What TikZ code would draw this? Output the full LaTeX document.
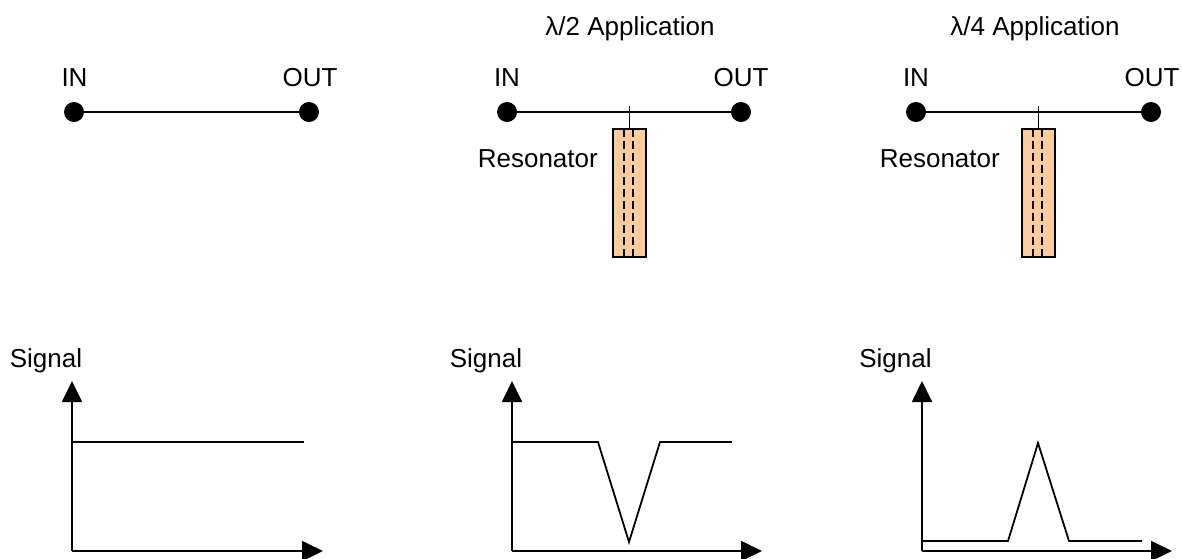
\documentclass[tikz,border=0pt]{standalone}
\usepackage{fontspec}
\setmainfont{Liberation Sans}
\usetikzlibrary{arrows.meta}
\definecolor{peach}{HTML}{FCCC9C}
\begin{document}
\begin{tikzpicture}[x=1pt,y=-1pt,
  port/.style={circle,fill=black,inner sep=0pt,minimum size=20pt},
  lbl/.style={inner sep=0pt,anchor=base,font=\fontsize{26}{31}\selectfont},
  wire/.style={line width=1.8pt},
  resbox/.style={draw=black,line width=1.8pt,fill=peach,minimum width=33pt,minimum height=128pt,inner sep=0pt},
  resdash/.style={line width=1.5pt,dash pattern=on 8pt off 4pt},
  axis/.style={line width=1.8pt,-{Triangle[width=20pt,length=21pt]}},
  sig/.style={line width=1.8pt,line join=miter}]
\useasboundingbox (0,0) rectangle (1182,558);

% ---- panel 1 ----
\node[port] (i1) at (74,112) {};
\node[port] (o1) at (309,112) {};
\node[lbl] (li1) at (74.5,86) {IN};
\node[lbl] (lo1) at (310,86) {OUT};
\draw[wire] (i1) -- (o1);

% ---- panel 2 ----
\node[lbl] (t2) at (630,35) {λ/2 Application};
\node[port] (i2) at (507,112) {};
\node[port] (o2) at (741,112) {};
\node[lbl] (li2) at (507,86) {IN};
\node[lbl] (lo2) at (741,86) {OUT};
\draw[wire] (i2) -- (o2);
\node[resbox] (r2) at (629.5,193) {};
\coordinate (s2) at (629.5,106);
\draw[wire] (s2) -- (r2.north);
\draw[resdash] (624,129) -- (624,257);
\draw[resdash] (633,129) -- (633,257);
\node[lbl,anchor=base east] (rl2) at (598,167) {Resonator};

% ---- panel 3 ----
\node[lbl] (t3) at (1035,35) {λ/4 Application};
\node[port] (i3) at (916,112) {};
\node[port] (o3) at (1151,112) {};
\node[lbl] (li3) at (916,86) {IN};
\node[lbl] (lo3) at (1152,86) {OUT};
\draw[wire] (i3) -- (o3);
\node[resbox] (r3) at (1038.5,193) {};
\coordinate (s3) at (1038.5,106);
\draw[wire] (s3) -- (r3.north);
\draw[resdash] (1033,129) -- (1033,257);
\draw[resdash] (1042,129) -- (1042,257);
\node[lbl,anchor=base east] (rl3) at (1000,167) {Resonator};

% ---- graph 1 ----
\coordinate (g1) at (72,551);
\coordinate (g1y) at (72,381);
\coordinate (g1x) at (323,551);
\draw[axis] (g1) -- (g1y);
\draw[axis] (g1) -- (g1x);
\node[lbl] (sl1) at (46,367) {Signal};
\draw[sig] (72,442) -- (304,442);

% ---- graph 2 ----
\coordinate (g2) at (512,551);
\coordinate (g2y) at (512,381);
\coordinate (g2x) at (762,551);
\draw[axis] (g2) -- (g2y);
\draw[axis] (g2) -- (g2x);
\node[lbl] (sl2) at (486,367) {Signal};
\draw[sig] (512,442) -- (598,442) -- (629,542) -- (660,442) -- (732,442);

% ---- graph 3 ----
\coordinate (g3) at (922,551);
\coordinate (g3y) at (922,381);
\coordinate (g3x) at (1172,551);
\draw[axis] (g3) -- (g3y);
\draw[axis] (g3) -- (g3x);
\node[lbl] (sl3) at (895.5,367) {Signal};
\draw[sig] (922,541) -- (1008,541) -- (1038,443) -- (1069,541) -- (1142,541);
\end{tikzpicture}
\end{document}
